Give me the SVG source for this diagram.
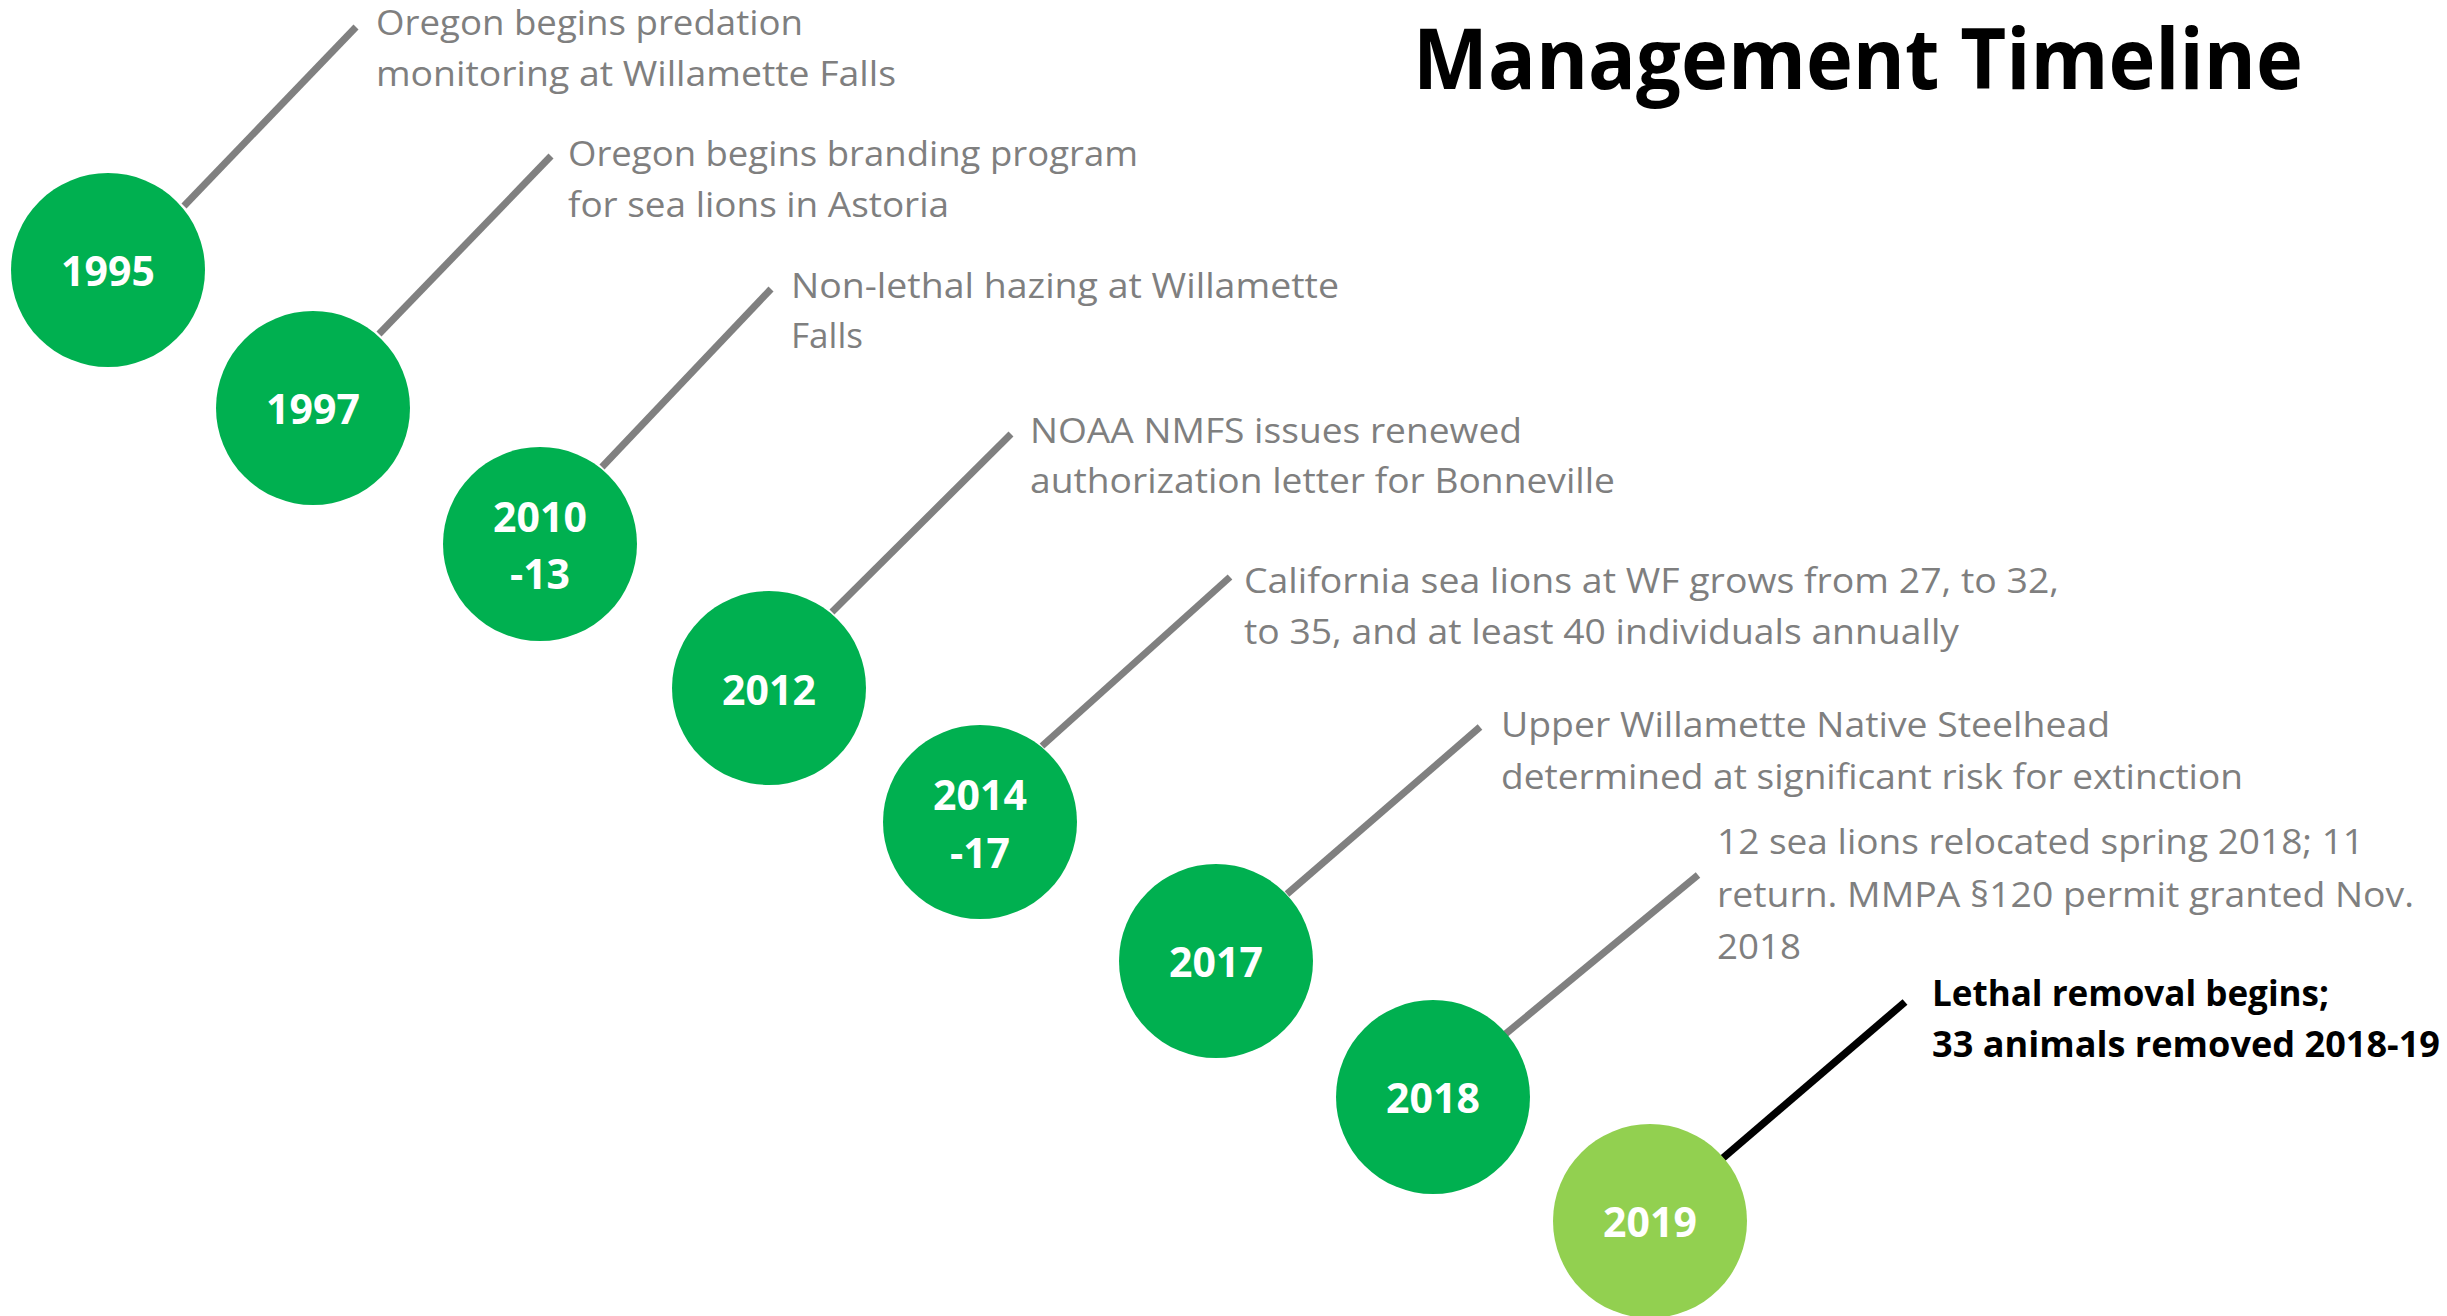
<svg xmlns="http://www.w3.org/2000/svg" width="2447" height="1316" viewBox="0 0 2447 1316">
<style>
.node circle { fill: #00B050; }
.node.last circle { fill: #92D050; }
.year { font-family: "Open Sans", "Liberation Sans", sans-serif; font-weight: bold; font-size: 41px; fill: #FFFFFF; text-anchor: middle; }
.label { font-family: "Open Sans", "Liberation Sans", sans-serif; font-size: 35px; fill: #7F7F7F; }
.label.hl { font-weight: bold; fill: #000000; }
.title { font-family: "Open Sans", "Liberation Sans", sans-serif; font-weight: bold; font-size: 84px; fill: #000000; }
.conn line { stroke: #808080; stroke-width: 7; stroke-linecap: butt; }
.conn line.hl { stroke: #000000; stroke-width: 7.5; }
</style>
<rect x="0" y="0" width="2447" height="1316" fill="#FFFFFF"/>
<text class="title" x="1413" y="89" textLength="890" lengthAdjust="spacingAndGlyphs">Management Timeline</text>
<g id="connectors" class="conn">
  <line x1="184" y1="206" x2="356" y2="27"/>
  <line x1="379" y1="334" x2="551" y2="156"/>
  <line x1="602" y1="467" x2="771" y2="289"/>
  <line x1="832" y1="612" x2="1011" y2="434"/>
  <line x1="1042" y1="746" x2="1230" y2="577"/>
  <line x1="1287" y1="894" x2="1480" y2="727"/>
  <line x1="1503" y1="1036" x2="1698" y2="875"/>
  <line class="hl" x1="1723" y1="1158" x2="1905" y2="1002"/>
</g>
<g id="node-1995" class="node">
  <circle cx="108" cy="270" r="97"/>
  <text class="year" x="108" y="286">1995</text>
  <text class="label" x="376" y="35" textLength="427" lengthAdjust="spacingAndGlyphs">Oregon begins predation</text>
  <text class="label" x="376" y="86" textLength="520" lengthAdjust="spacingAndGlyphs">monitoring at Willamette Falls</text>
</g>
<g id="node-1997" class="node">
  <circle cx="313" cy="408" r="97"/>
  <text class="year" x="313" y="424">1997</text>
  <text class="label" x="568" y="166" textLength="570" lengthAdjust="spacingAndGlyphs">Oregon begins branding program</text>
  <text class="label" x="568" y="217" textLength="381" lengthAdjust="spacingAndGlyphs">for sea lions in Astoria</text>
</g>
<g id="node-2010-13" class="node">
  <circle cx="540" cy="544" r="97"/>
  <text class="year" x="540" y="532">2010</text>
  <text class="year" x="540" y="589">-13</text>
  <text class="label" x="791" y="298" textLength="548" lengthAdjust="spacingAndGlyphs">Non-lethal hazing at Willamette</text>
  <text class="label" x="791" y="348" textLength="72" lengthAdjust="spacingAndGlyphs">Falls</text>
</g>
<g id="node-2012" class="node">
  <circle cx="769" cy="688" r="97"/>
  <text class="year" x="769" y="705">2012</text>
  <text class="label" x="1030" y="443" textLength="492" lengthAdjust="spacingAndGlyphs">NOAA NMFS issues renewed</text>
  <text class="label" x="1030" y="493" textLength="585" lengthAdjust="spacingAndGlyphs">authorization letter for Bonneville</text>
</g>
<g id="node-2014-17" class="node">
  <circle cx="980" cy="822" r="97"/>
  <text class="year" x="980" y="810">2014</text>
  <text class="year" x="980" y="868">-17</text>
  <text class="label" x="1244" y="593" textLength="815" lengthAdjust="spacingAndGlyphs">California sea lions at WF grows from 27, to 32,</text>
  <text class="label" x="1244" y="644" textLength="715" lengthAdjust="spacingAndGlyphs">to 35, and at least 40 individuals annually</text>
</g>
<g id="node-2017" class="node">
  <circle cx="1216" cy="961" r="97"/>
  <text class="year" x="1216" y="977">2017</text>
  <text class="label" x="1501" y="737" textLength="609" lengthAdjust="spacingAndGlyphs">Upper Willamette Native Steelhead</text>
  <text class="label" x="1501" y="789" textLength="742" lengthAdjust="spacingAndGlyphs">determined at significant risk for extinction</text>
</g>
<g id="node-2018" class="node">
  <circle cx="1433" cy="1097" r="97"/>
  <text class="year" x="1433" y="1113">2018</text>
  <text class="label" x="1717" y="854" textLength="647" lengthAdjust="spacingAndGlyphs">12 sea lions relocated spring 2018; 11</text>
  <text class="label" x="1717" y="907" textLength="697" lengthAdjust="spacingAndGlyphs">return. MMPA §120 permit granted Nov.</text>
  <text class="label" x="1717" y="959" textLength="84" lengthAdjust="spacingAndGlyphs">2018</text>
</g>
<g id="node-2019" class="node last">
  <circle cx="1650" cy="1221" r="97"/>
  <text class="year" x="1650" y="1237">2019</text>
  <text class="label hl" x="1932" y="1006" textLength="397" lengthAdjust="spacingAndGlyphs">Lethal removal begins;</text>
  <text class="label hl" x="1932" y="1057" textLength="508" lengthAdjust="spacingAndGlyphs">33 animals removed 2018-19</text>
</g>
</svg>
